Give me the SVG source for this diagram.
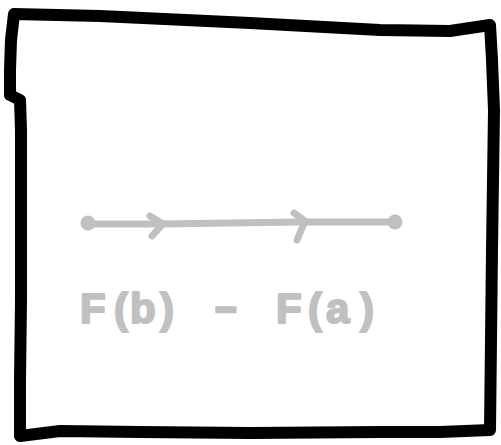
<svg xmlns="http://www.w3.org/2000/svg" width="501" height="445" viewBox="0 0 501 445">
<style>
.frame{fill:none;stroke:#000;stroke-width:12;stroke-linejoin:round;stroke-linecap:round}
.ink{fill:none;stroke:#c0c0c0;stroke-width:7;stroke-linecap:round;stroke-linejoin:round}
.dot{fill:#c0c0c0}
.lbl{font-family:"Liberation Sans",Arial,sans-serif;font-weight:bold;font-size:42px;fill:#c0c0c0;stroke:#c0c0c0;stroke-width:2;stroke-linejoin:round}
</style>
<rect width="501" height="445" fill="#fff"/>
<g id="frame">
<path class="frame" d="M14,14 L100,16 L250,23 L380,30 L450,31 L490,25 L492,60 L494,110 L492,250 L490,430 L440,432 L380,432 L250,433 L140,432 L60,431 L20,436 L20,380 L21,300 L21,130 L20,100 L10,95 L10,70 L11,40 Z"/>
</g>
<g id="connectors">
<path class="ink" d="M88,224 L160,224 L300,222 L395,222"/>
<path class="ink" d="M150,216 L163,224 L152,236"/>
<path class="ink" d="M294,213 L305,221 L297,240"/>
<circle class="dot" cx="88" cy="223" r="7.5"/>
<circle class="dot" cx="395" cy="222" r="7.5"/>
</g>
<g id="label">
<text class="lbl" y="323"><tspan x="80">F</tspan><tspan x="114">(</tspan><tspan x="130">b</tspan><tspan x="160">)</tspan><tspan x="212" dy="9" font-size="84" font-weight="normal" stroke-width="0.5">-</tspan><tspan x="276" dy="-9">F</tspan><tspan x="308">(</tspan><tspan x="326">a</tspan><tspan x="360">)</tspan></text>
</g>
</svg>
